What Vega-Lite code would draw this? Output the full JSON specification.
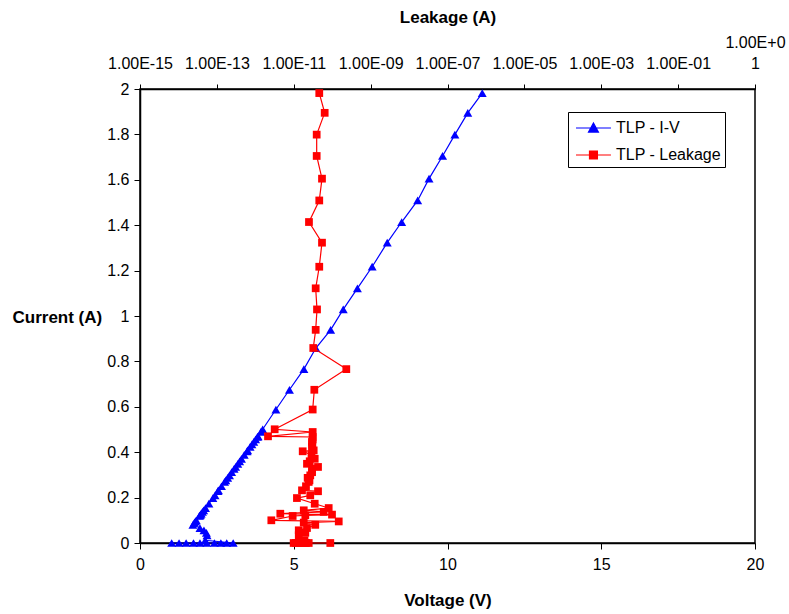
{
  "$schema": "https://vega.github.io/schema/vega-lite/v6.json",
  "width": 615,
  "height": 454,
  "autosize": "none",
  "padding": {"left": 140, "top": 89, "right": 34, "bottom": 71},
  "background": "white",
  "config": {
    "font": "Liberation Sans",
    "view": {"stroke": "#000000", "strokeWidth": 1.5},
    "axis": {
      "grid": false,
      "domainColor": "#000000",
      "domainWidth": 1.5,
      "tickColor": "#000000",
      "tickWidth": 1,
      "labelColor": "#000000",
      "labelFont": "Liberation Sans",
      "labelFontSize": 16,
      "labelFlush": false,
      "labelOverlap": false,
      "titleColor": "#000000",
      "titleFont": "Liberation Sans",
      "titleFontSize": 17,
      "titleFontWeight": "bold"
    }
  },
  "data": {
    "values": [
      {"n": 1, "V": 1.03, "I": 0, "L": 1.64e-11},
      {"n": 2, "V": 1.27, "I": 0, "L": 1.29e-11},
      {"n": 3, "V": 1.50, "I": 0, "L": 1.96e-11},
      {"n": 4, "V": 1.74, "I": 0, "L": 9.95e-12},
      {"n": 5, "V": 1.95, "I": 0, "L": 2.45e-11},
      {"n": 6, "V": 2.17, "I": 0, "L": 1.45e-11},
      {"n": 7, "V": 2.42, "I": 0, "L": 1.64e-11},
      {"n": 8, "V": 2.63, "I": 0, "L": 2.08e-11},
      {"n": 9, "V": 2.82, "I": 0, "L": 8.93e-11},
      {"n": 10, "V": 3.03, "I": 0, "L": 1.14e-11},
      {"n": 11, "V": 2.12, "I": 0.012, "L": 1.9e-11},
      {"n": 12, "V": 2.18, "I": 0.034, "L": 1.35e-11},
      {"n": 13, "V": 2.16, "I": 0.045, "L": 2.0e-11},
      {"n": 14, "V": 2.08, "I": 0.056, "L": 1.35e-11},
      {"n": 15, "V": 1.95, "I": 0.066, "L": 2.21e-11},
      {"n": 16, "V": 1.72, "I": 0.080, "L": 3.63e-11},
      {"n": 17, "V": 1.77, "I": 0.090, "L": 1.82e-11},
      {"n": 18, "V": 1.80, "I": 0.095, "L": 1.48e-10},
      {"n": 19, "V": 1.83, "I": 0.100, "L": 2.61e-12},
      {"n": 20, "V": 1.93, "I": 0.119, "L": 9.37e-12},
      {"n": 21, "V": 1.95, "I": 0.122, "L": 2.0e-11},
      {"n": 22, "V": 1.97, "I": 0.125, "L": 9.89e-11},
      {"n": 23, "V": 1.99, "I": 0.129, "L": 4.47e-12},
      {"n": 24, "V": 2.03, "I": 0.137, "L": 6.01e-11},
      {"n": 25, "V": 2.07, "I": 0.144, "L": 1.82e-11},
      {"n": 26, "V": 2.13, "I": 0.154, "L": 8.11e-11},
      {"n": 27, "V": 2.24, "I": 0.173, "L": 3.51e-11},
      {"n": 28, "V": 2.37, "I": 0.198, "L": 1.21e-11},
      {"n": 29, "V": 2.44, "I": 0.210, "L": 2.69e-11},
      {"n": 30, "V": 2.53, "I": 0.228, "L": 4.28e-11},
      {"n": 31, "V": 2.55, "I": 0.232, "L": 1.64e-11},
      {"n": 32, "V": 2.65, "I": 0.250, "L": 2.08e-11},
      {"n": 33, "V": 2.75, "I": 0.269, "L": 2.45e-11},
      {"n": 34, "V": 2.79, "I": 0.276, "L": 2.56e-11},
      {"n": 35, "V": 2.85, "I": 0.287, "L": 2.3e-11},
      {"n": 36, "V": 2.91, "I": 0.298, "L": 2.69e-11},
      {"n": 37, "V": 2.98, "I": 0.312, "L": 3.0e-11},
      {"n": 38, "V": 3.06, "I": 0.327, "L": 2.98e-11},
      {"n": 39, "V": 3.11, "I": 0.335, "L": 4.28e-11},
      {"n": 40, "V": 3.18, "I": 0.349, "L": 2.21e-11},
      {"n": 41, "V": 3.24, "I": 0.360, "L": 2.6e-11},
      {"n": 42, "V": 3.30, "I": 0.371, "L": 3.51e-11},
      {"n": 43, "V": 3.39, "I": 0.388, "L": 2.9e-11},
      {"n": 44, "V": 3.48, "I": 0.404, "L": 1.71e-11},
      {"n": 45, "V": 3.50, "I": 0.408, "L": 3.30e-11},
      {"n": 46, "V": 3.58, "I": 0.423, "L": 2.98e-11},
      {"n": 47, "V": 3.64, "I": 0.434, "L": 3.05e-11},
      {"n": 48, "V": 3.70, "I": 0.445, "L": 2.98e-11},
      {"n": 49, "V": 3.76, "I": 0.456, "L": 3.1e-11},
      {"n": 50, "V": 3.82, "I": 0.467, "L": 3.11e-11},
      {"n": 51, "V": 3.84, "I": 0.470, "L": 2.14e-12},
      {"n": 52, "V": 3.93, "I": 0.489, "L": 3.11e-11},
      {"n": 53, "V": 3.99, "I": 0.501, "L": 3.19e-12},
      {"n": 54, "V": 4.42, "I": 0.588, "L": 3.11e-11},
      {"n": 55, "V": 4.86, "I": 0.675, "L": 3.43e-11},
      {"n": 56, "V": 5.33, "I": 0.766, "L": 2.33e-10},
      {"n": 57, "V": 5.72, "I": 0.859, "L": 3.22e-11},
      {"n": 58, "V": 6.20, "I": 0.939, "L": 3.72e-11},
      {"n": 59, "V": 6.61, "I": 1.029, "L": 4.03e-11},
      {"n": 60, "V": 7.07, "I": 1.122, "L": 3.72e-11},
      {"n": 61, "V": 7.55, "I": 1.217, "L": 4.61e-11},
      {"n": 62, "V": 8.04, "I": 1.323, "L": 5.43e-11},
      {"n": 63, "V": 8.51, "I": 1.414, "L": 2.49e-11},
      {"n": 64, "V": 9.03, "I": 1.509, "L": 4.61e-11},
      {"n": 65, "V": 9.40, "I": 1.605, "L": 5.43e-11},
      {"n": 66, "V": 9.84, "I": 1.705, "L": 3.95e-11},
      {"n": 67, "V": 10.24, "I": 1.799, "L": 3.95e-11},
      {"n": 68, "V": 10.66, "I": 1.895, "L": 6.38e-11},
      {"n": 69, "V": 11.13, "I": 1.982, "L": 4.61e-11}
    ]
  },
  "layer": [
    {
      "mark": {
        "type": "line",
        "strokeWidth": 1.2,
        "point": {"shape": "triangle-up", "filled": true, "size": 80, "opacity": 1}
      },
      "encoding": {
        "x": {
          "field": "V",
          "type": "quantitative",
          "scale": {"domain": [0, 20], "nice": false, "zero": false},
          "axis": {
            "orient": "bottom",
            "values": [0, 5, 10, 15, 20],
            "tickSize": 6,
            "labelPadding": 7,
            "title": "Voltage (V)",
            "titlePadding": 20
          }
        },
        "y": {
          "field": "I",
          "type": "quantitative",
          "scale": {"domain": [0, 2], "nice": false},
          "axis": {
            "values": [0, 0.2, 0.4, 0.6, 0.8, 1, 1.2, 1.4, 1.6, 1.8, 2],
            "format": "~g",
            "tickSize": 6,
            "labelPadding": 5,
            "title": "Current (A)",
            "titleAngle": 0,
            "titleAlign": "left",
            "titleBaseline": "middle",
            "titleX": -128,
            "titleY": 228
          }
        },
        "order": {"field": "n", "type": "quantitative"},
        "color": {
          "datum": "TLP - I-V",
          "type": "nominal",
          "scale": {"domain": ["TLP - I-V", "TLP - Leakage"], "range": ["#0000ff", "#ff0000"]},
          "legend": {
            "title": null,
            "orient": "none",
            "legendX": 428,
            "legendY": 23,
            "padding": 4,
            "strokeColor": "#000000",
            "fillColor": "#ffffff",
            "symbolSize": 484,
            "symbolStrokeWidth": 1.2,
            "labelOffset": 20,
            "rowPadding": 7,
            "labelFont": "Liberation Sans",
            "labelFontSize": 16,
            "labelColor": "#000000",
            "encode": {
              "symbols": {
                "update": {
                  "shape": {"signal": "datum.value === 'TLP - I-V' ? 'M-0.73,0H2.45M0.86,-0.45L1.31,0.37H0.41Z' : 'M-0.73,0H2.45M0.5,-0.36H1.22V0.36H0.5Z'"},
                  "fill": {"signal": "datum.value === 'TLP - I-V' ? '#0000ff' : '#ff0000'"},
                  "stroke": {"signal": "datum.value === 'TLP - I-V' ? '#0000ff' : '#ff0000'"},
                  "opacity": {"value": 1},
                  "fillOpacity": {"value": 1}
                }
              }
            }
          }
        }
      }
    },
    {
      "mark": {
        "type": "line",
        "strokeWidth": 1.2,
        "point": {"shape": "square", "filled": true, "size": 60, "opacity": 1}
      },
      "encoding": {
        "x": {
          "field": "L",
          "type": "quantitative",
          "scale": {"type": "log", "domain": [1e-15, 10], "nice": false, "zero": false},
          "axis": {
            "orient": "top",
            "values": [1e-15, 1e-13, 1e-11, 1e-9, 1e-7, 1e-5, 1e-3, 1e-1, 10],
            "tickSize": 5,
            "labelPadding": {"condition": {"test": "datum.value >= 5", "value": 34}, "value": 13},
            "labelLineHeight": 21,
            "labelExpr": "datum.value >= 5 ? ['1.00E+0', '1'] : '1.00E' + (round(log(datum.value)/LN10) < 0 ? '-' : '+') + (abs(round(log(datum.value)/LN10)) < 10 ? '0' : '') + abs(round(log(datum.value)/LN10))",
            "title": "Leakage (A)",
            "titlePadding": 8
          }
        },
        "y": {"field": "I", "type": "quantitative", "scale": {"domain": [0, 2], "nice": false}},
        "order": {"field": "n", "type": "quantitative"},
        "color": {"datum": "TLP - Leakage", "type": "nominal"}
      }
    }
  ],
  "resolve": {"scale": {"x": "independent"}, "axis": {"x": "independent"}}
}
